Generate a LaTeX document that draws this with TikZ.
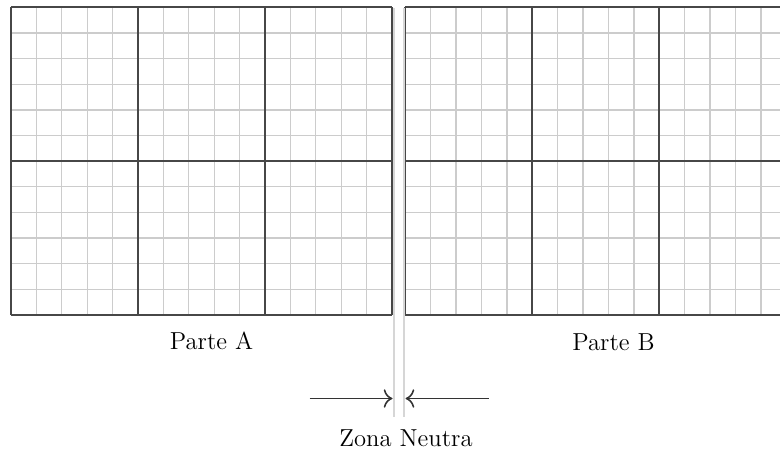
\documentclass[tikz,border=0pt]{standalone}
\usetikzlibrary{arrows.meta}
\begin{document}
\begin{tikzpicture}[x=0.02cm,y=-0.02cm,
  minorline/.style={draw=black!20,line width=0.75pt},
  majorline/.style={draw=black!72,line width=1pt},
  gapline/.style={draw=black!16,line width=1.2pt},
  arrowline/.style={draw=black!80,line width=0.9pt,-{To[scale=1.4]}},
  lbl/.style={font=\fontsize{14}{17}\selectfont,inner sep=0pt}]
\useasboundingbox (0,0) rectangle (780,450);
\begin{scope}
\clip (0,0) rectangle (780,450);
% panels
\foreach \ox in {11,405.3}{
  \foreach \i in {0,...,15}
    \draw[minorline] ({\ox+\i*25.4},7.3) -- ({\ox+\i*25.4},315);
  \foreach \j in {0,...,12}
    \draw[minorline] (\ox,{7.3+\j*25.64}) -- ({\ox+381},{7.3+\j*25.64});
  \foreach \i in {0,...,3}
    \draw[majorline] ({\ox+\i*127},7.3) -- ({\ox+\i*127},315);
  \foreach \j in {0,...,2}
    \draw[majorline] (\ox,{7.3+\j*153.85}) -- ({\ox+381},{7.3+\j*153.85});
}
\end{scope}
% neutral zone
\draw[gapline] (393.6,8) -- (393.6,417);
\draw[gapline] (404.2,8) -- (404.2,417);
% labels
\node[lbl] (pa) at (211.5,341) {Parte A};
\node[lbl] (pb) at (613.5,342.5) {Parte B};
\node[lbl] (zn) at (406,438) {Zona Neutra};
% arrows
\coordinate (la) at (309.5,398.5);
\coordinate (lt) at (392.5,398.5);
\coordinate (ra) at (488.5,398.5);
\coordinate (rt) at (405.5,398.5);
\draw[arrowline] (la) -- (lt);
\draw[arrowline] (ra) -- (rt);
\end{tikzpicture}
\end{document}
